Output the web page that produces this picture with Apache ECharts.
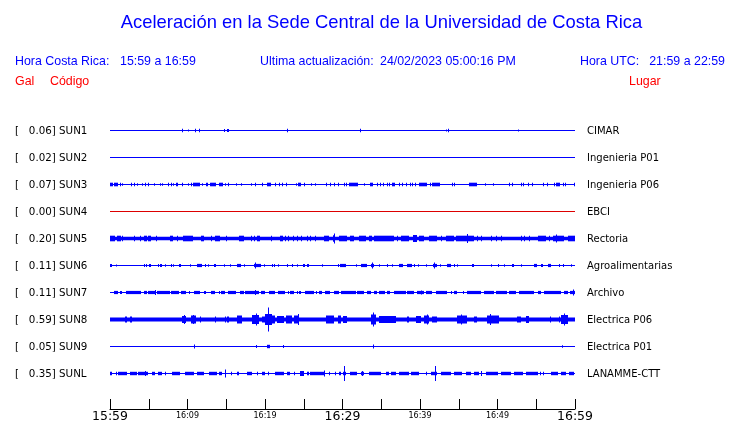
<!DOCTYPE html>
<html><head><meta charset="utf-8">
<script src="https://cdn.jsdelivr.net/npm/echarts@6/dist/echarts.min.js"></script>
<style>html,body{margin:0;padding:0;background:#fff}#c{width:740px;height:423px}</style>
</head><body><div id="c"></div>
<script>
// ---------- data ----------
const stations = ['SUN1','SUN2','SUN3','SUN4','SUN5','SUN6','SUN7','SUN8','SUN9','SUNL'];
const maxGal   = ['0.06','0.02','0.07','0.00','0.20','0.11','0.11','0.59','0.05','0.35'];
const places   = ['CIMAR','Ingenieria P01','Ingenieria P06','EBCI','Rectoria','Agroalimentarias','Archivo','Electrica P06','Electrica P01','LANAMME-CTT'];
// background noise half-amplitude of each trace
const baseHalf = [0.5,0.5,0.5,0.5,1.8,0.5,0.5,2.0,0.5,0.5];
// bursts: [start minute, end minute, half amplitude]  (minutes after 15:59)
const sun1 = [[9.35,9.35,1.7],[10.0,10.0,1],[11.03,11.03,1.7],[11.42,11.42,1.7],[14.66,14.87,1.5],[15.04,15.34,1.5],[22.8,22.8,1.7],[32.24,32.24,1.7],[43.36,43.36,1],[43.62,43.62,1.7],[52.67,52.67,1]];
const sun2 = [];
const sun3 = [[0,0.39,1.8],[0.56,0.99,1.8],[1.25,1.25,1.8],[1.59,1.59,1.2],[2.67,2.8,1.8],[3.06,3.06,1.8],[3.49,3.49,1.2],[4.18,4.18,1.2],[4.48,4.48,1.8],[4.87,4.87,1.8],[5.73,5.73,1.2],[6.42,6.42,1.2],[6.77,6.77,1.2],[7.54,7.54,1.8],[7.84,7.84,1.8],[8.19,8.19,1.2],[8.49,8.71,1.8],[9.31,9.31,1.8],[10.0,10.0,1.2],[10.43,10.43,1.8],[10.69,11.59,1.8],[11.9,11.9,1.2],[12.33,12.33,1.8],[12.54,12.54,1.8],[12.84,12.84,1.8],[13.02,13.71,1.8],[14.01,14.01,1.8],[14.22,14.53,1.8],[14.83,14.83,1.2],[15.17,15.17,1.8],[16.21,16.21,1.2],[16.85,16.85,1.2],[18.19,18.19,1.2],[18.71,18.71,1.8],[19.61,19.61,1.8],[20.22,20.78,1.8],[21.25,21.25,1.8],[21.81,21.81,1.8],[22.24,22.24,1.8],[22.67,22.67,1.8],[23.97,23.97,1.2],[24.31,24.61,1.8],[25.04,25.04,1.8],[25.91,25.91,1.2],[26.42,26.42,1.2],[27.84,27.84,1.8],[28.4,28.4,1.8],[28.92,28.92,1.8],[29.4,29.4,1.8],[30.22,30.22,1.8],[30.43,30.43,1.8],[30.82,31.98,1.8],[32.76,32.76,1.2],[33.58,33.92,1.8],[34.48,34.48,1.8],[34.83,34.83,1.8],[35.26,35.26,1.8],[35.69,35.69,1.8],[35.99,35.99,1.8],[36.42,36.77,1.8],[37.28,37.28,1.8],[37.71,37.71,1.8],[38.23,38.23,1.8],[38.66,38.66,1.8],[38.96,38.96,1.8],[39.31,39.31,1.8],[39.87,40.95,1.8],[41.25,41.25,1.8],[41.59,42.58,1.8],[44.18,44.18,1.8],[44.4,44.4,1.8],[46.33,47.41,1.8],[48.4,48.4,1.2],[49.4,49.4,1.2],[51.51,51.51,1.8],[51.81,51.81,1.8],[53.02,53.02,1.8],[53.23,53.23,1.8],[53.88,53.88,1.8],[54.4,54.4,1.8],[55.9,55.9,1.8],[56.33,56.33,1.8],[57.24,57.24,1.8],[57.54,58.1,1.8],[58.4,58.4,1.8],[58.66,58.66,1.8],[59.91,59.91,1.8]];
const sun4 = [];
const sun5 = [[0,0.65,2.8],[0.86,1.42,2.8],[1.59,1.59,2.8],[3.15,3.15,2.8],[3.88,3.88,2.8],[4.44,4.74,2.8],[4.96,5.26,2.8],[5.95,5.95,2.8],[7.76,8.15,2.8],[8.62,8.62,2.8],[9.4,10.65,2.8],[11.72,12.11,2.8],[12.97,12.97,2.8],[13.49,14.22,2.8],[14.96,14.96,2.8],[16.59,17.24,2.8],[18.15,18.15,2.8],[18.62,18.62,2.8],[18.97,19.4,2.8],[20.78,20.78,2.8],[21.98,22.33,2.8],[22.63,22.63,2.8],[22.97,22.97,2.8],[23.58,23.58,2.8],[24.14,24.14,2.8],[24.66,24.66,2.8],[25.43,25.43,2.8],[25.86,25.86,2.8],[26.51,26.51,2.8],[27.59,28.23,2.8],[28.79,29.09,3.2],[28.88,28.88,5],[29.53,30.6,2.8],[31.03,31.46,2.8],[32.11,32.97,2.8],[33.4,33.84,2.8],[34.05,36.64,2.8],[37.07,37.07,2.8],[37.5,38.58,2.8],[39.14,39.65,3.5],[39.87,40.52,2.8],[41.16,42.24,2.8],[42.67,42.67,2.8],[43.32,44.4,2.8],[44.61,46.98,2.8],[46.12,46.12,4.5],[47.41,47.41,2.8],[47.84,47.84,2.8],[49.14,49.14,2.8],[49.78,49.78,2.8],[50.43,50.43,2.8],[53.02,53.02,2.8],[53.45,53.45,2.8],[54.09,54.09,2.8],[55.17,56.25,2.8],[56.68,56.68,2.8],[57.11,58.53,2.8],[57.54,57.54,4],[59.05,60,2.8]];
const sun6 = [[0,0.22,1.6],[0.73,0.73,1],[4.35,4.35,1.6],[4.66,4.66,1.6],[5.04,5.3,1.6],[6.16,6.16,1.6],[6.51,6.77,1.6],[7.11,7.11,1.2],[7.89,7.89,1.6],[8.19,8.19,1.2],[8.92,9.14,1.6],[10.34,10.34,1.2],[11.21,11.85,1.6],[12.28,12.28,1.6],[12.59,12.59,1.2],[13.36,13.66,1.6],[14.66,14.66,1.2],[15.52,15.52,1.2],[16.42,16.94,1.6],[17.24,17.24,1.2],[18.58,19.53,1.6],[18.71,18.71,3],[19.83,19.83,1.2],[20.91,20.91,1.6],[21.21,21.21,1.6],[21.68,21.68,1.2],[22.84,22.84,1.6],[23.49,23.49,1.6],[24.14,24.14,1.2],[24.87,25.13,1.6],[25.39,25.65,1.6],[27.37,27.37,1.2],[29.44,29.44,1.6],[29.74,30.39,1.6],[31.68,31.68,1.2],[32.41,33.19,1.6],[33.71,34.05,1.6],[33.83,33.83,3],[34.7,34.7,1.2],[35.69,35.69,1.6],[36.42,36.42,1.2],[37.28,37.8,1.6],[38.36,38.92,1.6],[39.22,39.22,1.6],[39.78,39.78,1.2],[40.73,40.73,1.2],[41.64,42.15,1.6],[41.85,41.85,3],[42.58,42.58,1.2],[43.53,43.96,1.6],[44.4,44.4,1.6],[44.83,44.83,1.2],[46.68,46.98,1.6],[49.14,49.14,1.2],[50,50.22,1.6],[50.86,50.86,1.2],[51.81,52.15,1.6],[53.02,53.02,1.2],[54.74,55.04,1.6],[55.6,55.82,1.6],[56.46,56.9,1.6],[57.97,57.97,1.6],[58.4,58.4,1.6],[59.48,59.48,1.2]];
const sun7 = [[0.56,0.99,1.6],[1.29,1.59,1.6],[2.03,4.01,1.6],[4.44,4.74,1.6],[4.87,5.82,1.6],[5.82,5.82,2.5],[6.03,7.76,1.6],[7.89,8.84,1.6],[9.18,9.78,1.6],[10.13,10.13,1.6],[10.78,11.64,1.6],[12.07,12.37,1.6],[13.06,13.58,1.6],[14.01,14.01,1.6],[14.35,14.78,1.6],[15.22,16.25,1.6],[16.81,17.24,1.6],[17.46,19.18,1.6],[18.75,18.75,2.5],[19.53,20.04,1.6],[20.47,21.34,1.6],[21.68,22.63,1.6],[22.97,22.97,1.6],[23.28,23.71,1.6],[24.14,24.14,1.6],[24.44,24.7,1.6],[25.13,26.29,1.6],[26.59,26.59,1.6],[26.94,27.37,1.6],[27.8,28.45,1.6],[28.88,29.53,1.6],[29.78,31.68,1.6],[31.9,32.76,1.6],[33.1,33.71,1.6],[34.05,34.4,1.6],[34.7,35.43,1.6],[35.69,36.12,1.6],[36.64,38.15,1.6],[38.36,39.22,1.6],[39.57,40.52,1.6],[40.08,40.08,2],[40.73,41.59,1.6],[42.02,43.53,1.6],[43.96,43.96,1.6],[44.4,44.83,1.6],[45.6,45.6,1.6],[46.12,47.84,1.6],[48.27,49.57,1.6],[49.78,51.29,1.6],[51.51,52.37,1.6],[52.8,54.74,1.6],[55.17,55.6,1.6],[56.03,58.19,1.6],[58.62,59.05,1.6],[59.4,60,1.6],[59.78,59.78,3]];
const sun8 = [[1.94,2.16,3],[2.59,2.8,3],[9.35,9.78,3.5],[9.57,9.57,4.5],[10.39,11.08,4],[10.7,10.7,4.5],[11.64,11.64,3],[13.49,13.49,3],[14.78,14.96,3],[15.09,15.39,3],[16.38,17.03,4],[18.32,19.27,4.5],[18.84,18.84,6],[19.61,20.04,3],[20.04,20.91,5.5],[20.39,20.39,12],[20.91,21.34,4],[21.55,22.41,3.5],[22.72,23.49,4],[23.71,24.44,4],[24.27,24.27,5.5],[27.89,28.88,4],[29.44,29.87,4],[30.04,30.52,3.5],[33.62,34.27,5],[33.92,33.92,7],[34.7,36.85,3.5],[38.36,38.58,3],[39.44,40.1,3.5],[40.5,41.2,4],[40.86,40.86,5],[41.6,42.24,3],[44.74,46.12,4],[45.34,45.34,5],[46.98,47.33,3],[48.62,50.22,4],[49.05,49.05,5.5],[52.58,53.02,3],[53.66,54.09,3.5],[56.81,56.81,3],[57.97,57.97,3],[58.19,59.05,4.5],[58.53,58.53,6]];
const sun9 = [[10.78,10.78,2],[18.79,18.79,1.5],[20.3,20.65,1.7],[22.28,22.28,1.5],[33.92,33.92,2],[58.36,58.36,1.2]];
const sunL = [[0,0.22,1.7],[0.73,0.73,1.7],[1.08,2.16,1.7],[2.59,3.45,1.7],[3.66,4.96,1.7],[4.53,4.53,2.5],[5.39,5.82,1.7],[6.25,6.68,1.7],[7.11,7.11,1.7],[7.97,9.05,1.7],[9.7,10.78,1.7],[11.21,12.07,1.7],[12.72,13.79,1.7],[14.01,14.44,1.7],[14.87,14.87,4],[15.65,15.65,1.7],[16.38,16.68,1.7],[17.67,18.32,1.7],[18.97,18.97,1.7],[19.61,19.96,1.7],[20.39,20.39,1.7],[21.34,22.41,1.7],[22.84,23.28,1.7],[23.71,23.71,1.7],[24.57,25,2.5],[25.43,25.73,1.7],[25.86,27.59,1.7],[27.59,27.59,3],[28.23,28.23,1.7],[29.09,29.09,1.7],[29.61,29.87,1.7],[30.0,30.39,1.7],[30.17,30.17,7.5],[31.03,31.9,1.7],[32.33,32.76,1.7],[32.54,32.54,2.5],[33.4,34.91,1.7],[35.56,35.99,1.7],[36.21,36.85,1.7],[37.28,38.58,1.7],[38.79,39.87,1.7],[40.73,40.95,1.7],[41.38,42.24,1.7],[41.94,41.94,7.5],[42.67,43.96,1.7],[44.4,45.47,1.7],[45.9,46.55,1.7],[46.98,47.63,1.7],[47.84,47.84,2.5],[48.49,50,1.7],[50.43,51.72,1.7],[52.15,53.23,1.7],[53.66,55.17,1.7],[55.52,55.52,1.7],[55.82,56.03,1.7],[56.9,57.76,1.7],[58.19,58.84,1.7],[59.27,59.91,1.7]];
const bursts = [sun1,sun2,sun3,sun4,sun5,sun6,sun7,sun8,sun9,sunL];
const tickLabels = ['15:59','','16:09','','16:19','','16:29','','16:39','','16:49','','16:59'];
const bigLabels = ['15:59','16:29','16:59'];
const titleText = 'Aceleración en la Sede Central de la Universidad de Costa Rica';
const lastUpdate = '24/02/2023 05:00:16 PM';
const crRange = '15:59 a 16:59';
const utcRange = '21:59 a 22:59';

// ---------- chart ----------
const BLUE = '#0000ff', RED = '#ff0000', TRACE_RED = '#dd0000';
const SPACING = 27, FIRST = 13;
const traceColor = i => stations[i] === 'SUN4' ? TRACE_RED : BLUE;

const series = stations.map((st, i) => {
  const c = FIRST + SPACING * i;
  const data = [[0, 60, c, baseHalf[i]]].concat(bursts[i].map(b => [b[0], b[1], c, b[2]]));
  const color = traceColor(i);
  return {
    type: 'custom', name: st, data: data, silent: true, animation: false,
    encode: { x: [0, 1], y: 2 },
    renderItem: function (params, api) {
      const t0 = api.value(0), t1 = api.value(1), cc = api.value(2), h = api.value(3);
      const a = api.coord([t0, cc - h]), b = api.coord([t1, cc + h]);
      const x = Math.round(a[0]);
      const w = Math.max(1, Math.round(b[0]) - x);
      const y0 = Math.min(a[1], b[1]), y1 = Math.max(a[1], b[1]);
      const rect = { type: 'rect', shape: { x: x, y: y0, width: w, height: Math.max(1, y1 - y0) }, style: { fill: color } };
      if (params.dataIndex !== 0) return rect;
      const cy = api.coord([0, cc])[1] + 1;
      return { type: 'group', children: [
        rect,
        { type: 'text', x: 15, y: cy, style: { text: '[   ' + maxGal[i] + '] ' + st, font: '10.3px "DejaVu Sans"', fill: '#000', verticalAlign: 'middle', align: 'left' } },
        { type: 'text', x: 587, y: cy, style: { text: places[i], font: '10px "DejaVu Sans"', fill: '#000', verticalAlign: 'middle', align: 'left' } }
      ]};
    }
  };
});

const hdr = (x, y, text, color, size, align) => ({ type: 'text', x: x, y: y, silent: true,
  style: { text: text, font: size + 'px "Liberation Sans"', fill: color, align: align || 'left', verticalAlign: 'middle' } });

const chart = echarts.init(document.getElementById('c'), null, { renderer: 'canvas' });
chart.setOption({
  animation: false,
  backgroundColor: '#fff',
  grid: { left: 110, right: 165, top: 117.5, bottom: 14, containLabel: false },
  xAxis: {
    type: 'value', min: 0, max: 60, interval: 5,
    axisLine: { show: true, onZero: false, lineStyle: { color: '#000', width: 1 } },
    axisTick: { show: true, inside: true, length: 10, lineStyle: { color: '#000', width: 1 } },
    splitLine: { show: false },
    axisLabel: {
      margin: 1, hideOverlap: false, showMinLabel: true, showMaxLabel: true,
      formatter: function (v) {
        const lab = tickLabels[Math.round(v / 5)];
        if (!lab) return '';
        return bigLabels.indexOf(lab) >= 0 ? '{b|' + lab + '}' : '{s|' + lab + '}';
      },
      rich: {
        b: { fontSize: 12.5, fontFamily: 'DejaVu Sans', color: '#000' },
        s: { fontSize: 8, fontFamily: 'DejaVu Sans', color: '#000', padding: [2, 0, 0, 0] }
      }
    }
  },
  yAxis: { type: 'value', min: 0, max: 291.5, inverse: true, show: false },
  graphic: [
    hdr(381.5, 23, titleText, BLUE, 18.4, 'center'),
    hdr(15, 62, 'Hora Costa Rica:', BLUE, 12.4),
    hdr(120, 62, crRange, BLUE, 12.4),
    hdr(260, 62, 'Ultima actualización:', BLUE, 12.4),
    hdr(380, 62, lastUpdate, BLUE, 12.4),
    hdr(580, 62, 'Hora UTC:', BLUE, 12.4),
    hdr(725, 62, utcRange, BLUE, 12.4, 'right'),
    hdr(15, 81.5, 'Gal', RED, 12.4),
    hdr(50, 81.5, 'Código', RED, 12.4),
    hdr(629, 81.5, 'Lugar', RED, 12.4)
  ],
  series: series
});
</script></body></html>
